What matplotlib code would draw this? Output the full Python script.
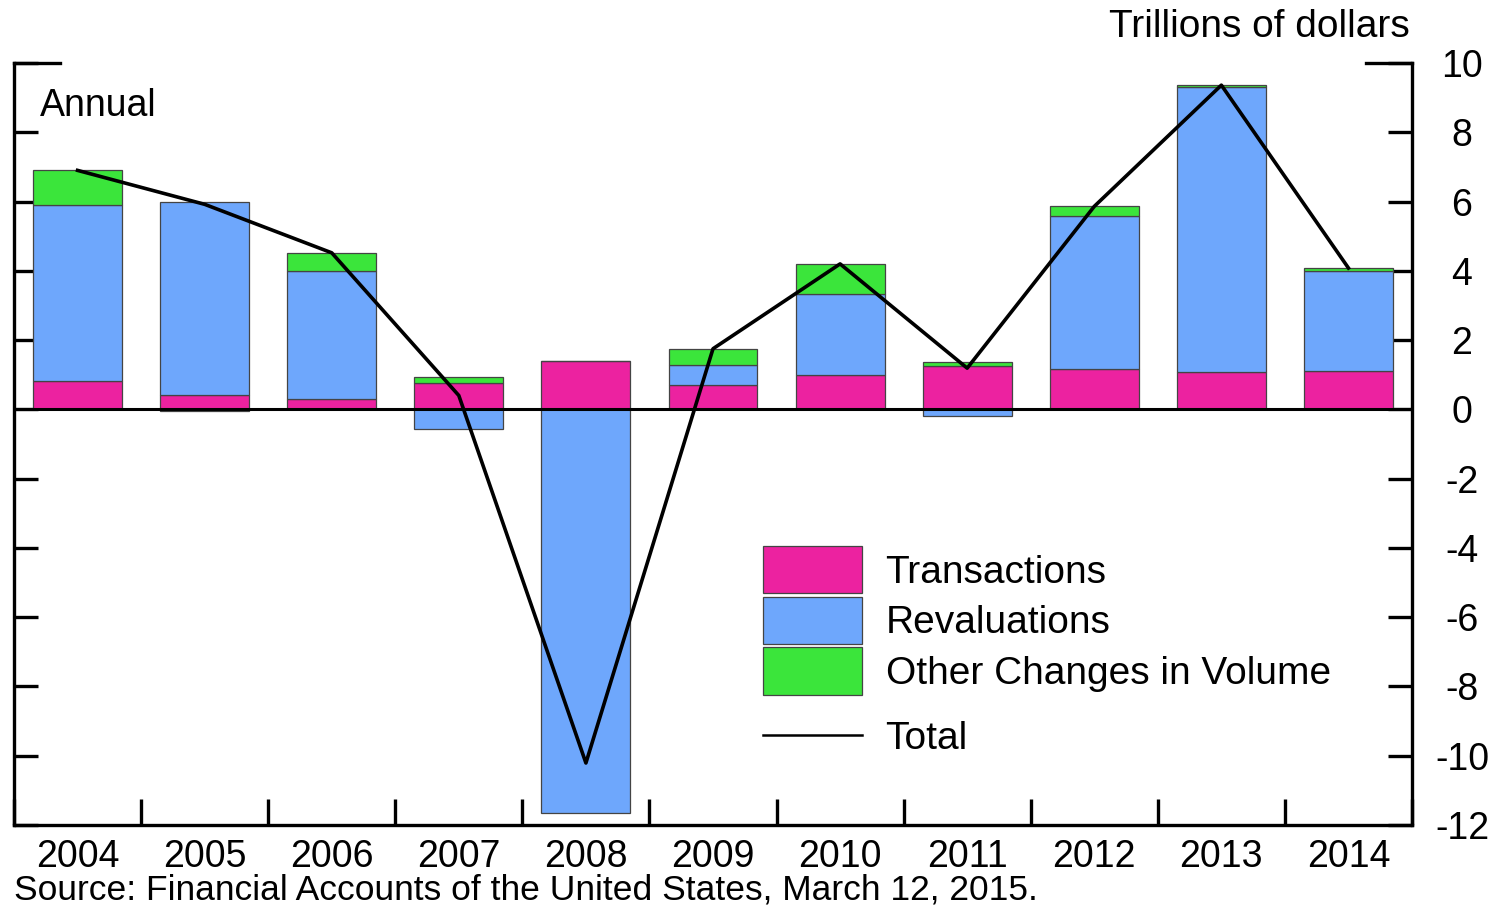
import matplotlib
matplotlib.use('Agg')
import matplotlib.pyplot as plt
import numpy as np
from matplotlib.patches import Patch
from matplotlib.lines import Line2D

plt.rcParams['font.family'] = ['Liberation Sans', 'DejaVu Sans']
plt.rcParams['axes.unicode_minus'] = False

years = ['2004', '2005', '2006', '2007', '2008', '2009', '2010', '2011', '2012', '2013', '2014']
transactions = [0.81, 0.41, 0.29, 0.76, 1.39, 0.69, 0.99, 1.25, 1.16, 1.07, 1.10]
revaluations = [5.10, 5.57, 3.71, -0.57, -11.65, 0.58, 2.34, -0.18, 4.43, 8.23, 2.90]
other_changes = [0.99, -0.06, 0.52, 0.17, 0.01, 0.48, 0.87, 0.12, 0.27, 0.06, 0.08]
total = [6.90, 5.92, 4.52, 0.40, -10.21, 1.75, 4.20, 1.19, 5.86, 9.36, 4.08]

c_trans = '#EC22A0'
c_reval = '#6EA7FC'
c_other = '#3BE53B'

fig = plt.figure(figsize=(14.98, 9.09), dpi=100)
ax = fig.add_axes([14/1498, 84/909, 1398/1498, 762/909])

x = np.arange(len(years))
pos = np.zeros(len(years))
neg = np.zeros(len(years))
for vals, col in [(transactions, c_trans), (revaluations, c_reval), (other_changes, c_other)]:
    vals = np.array(vals)
    bottom = np.where(vals >= 0, pos, neg)
    ax.bar(x, vals, width=0.7, bottom=bottom, color=col, edgecolor='#444444', linewidth=0.9, zorder=2)
    pos = pos + np.clip(vals, 0, None)
    neg = neg + np.clip(vals, None, 0)

ax.axhline(0, color='black', lw=2.2, zorder=3)
ax.plot(x, total, color='black', lw=2.6, zorder=4)

ax.set_xlim(-0.5, 10.5)
ax.set_ylim(-12, 10)

for s in ['left', 'right', 'bottom']:
    ax.spines[s].set_linewidth(2.4)
ax.spines['top'].set_visible(False)

ax.set_yticks(np.arange(-12, 11, 2))
ax.tick_params(axis='y', which='major', left=True, right=True, labelleft=False, labelright=True,
               direction='in', length=17, width=2.4, labelsize=27, pad=36)
for lab in ax.get_yticklabels():
    lab.set_horizontalalignment('center')
# longer ticks at the top of both axes
ax.axhline(10, xmin=0, xmax=46/1398, color='black', lw=2.4, clip_on=False)
ax.axhline(10, xmin=1-46/1398, xmax=1, color='black', lw=2.4, clip_on=False)

ax.set_xticks(x)
ax.set_xticklabels(years)
ax.set_xticks(np.arange(-0.5, 11, 1), minor=True)
ax.tick_params(axis='x', which='major', length=0, labelsize=27, pad=10)
ax.tick_params(axis='x', which='minor', direction='in', length=19, width=2.4)

fig.text(1410/1498, 1 - 27/909, 'Trillions of dollars', ha='right', va='center', fontsize=28)
ax.text(26/1398, 1 - 43/762, 'Annual', transform=ax.transAxes, ha='left', va='center', fontsize=27)
fig.text(14/1498, 1 - 890/909, 'Source: Financial Accounts of the United States, March 12, 2015.',
         ha='left', va='center', fontsize=25.5)

patches = [Patch(facecolor=c_trans, edgecolor='#444444', lw=0.9, label='Transactions'),
           Patch(facecolor=c_reval, edgecolor='#444444', lw=0.9, label='Revaluations'),
           Patch(facecolor=c_other, edgecolor='#444444', lw=0.9, label='Other Changes in Volume')]
leg1 = ax.legend(handles=patches, loc='upper left', bbox_to_anchor=(749/1398, 1 - 483/762),
                 frameon=False, fontsize=28, handlelength=2.55, handleheight=1.5,
                 labelspacing=0.08, handletextpad=0.6, borderaxespad=0, borderpad=0)
ax.add_artist(leg1)
ax.legend(handles=[Line2D([0], [0], color='black', lw=1.8, label='Total')], loc='upper left',
          bbox_to_anchor=(749/1398, 1 - 658/762), frameon=False, fontsize=28,
          handlelength=2.55, handletextpad=0.6, borderaxespad=0, borderpad=0)

plt.savefig('out.png', dpi=100)
